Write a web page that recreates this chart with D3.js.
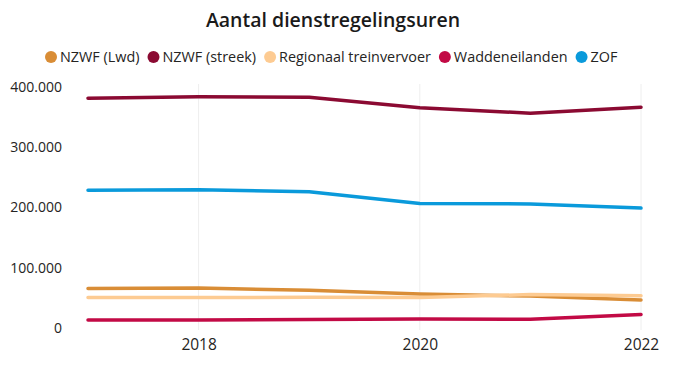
<!DOCTYPE html>
<html><head><meta charset="utf-8">
<script src="https://cdn.jsdelivr.net/npm/d3@7"></script>
<style>body{margin:0;background:#fff;font-family:"Open Sans",sans-serif}</style>
</head><body><svg id="c" width="687" height="375"></svg>
<script>
const years = [2017, 2018, 2019, 2020, 2021, 2022];
const seriesNames = ["NZWF (Lwd)", "NZWF (streek)", "Regionaal treinvervoer", "Waddeneilanden", "ZOF"];
const colors = ["#D98D36", "#8B0A32", "#FDCB92", "#C20A45", "#0A9ADB"];
const nzwfLwd = [65500, 66500, 62500, 56500, 53000, 46500];
const nzwfStreek = [381500, 384000, 383000, 365500, 356500, 366500];
const regionaal = [50500, 50500, 51000, 50500, 55500, 53500];
const wadden = [13300, 13300, 14000, 15000, 14500, 22500];
const zof = [228500, 229500, 226000, 206500, 206000, 199000];
const yTicks = [0, 100000, 200000, 300000, 400000];
const xTicks = [2018, 2020, 2022];
const allSeries = [nzwfLwd, nzwfStreek, regionaal, wadden, zof];

const svg = d3.select("#c");
const x = d3.scaleLinear().domain([2017, 2022]).range([88, 641]);
const y = d3.scaleLinear().domain([0, 400000]).range([328, 87]);
const fmt = v => d3.format(",")(v).replace(/,/g, ".");

svg.append("text").attr("x", 333).attr("y", 27).attr("text-anchor", "middle")
  .attr("font-size", 19.5).attr("font-weight", 600).attr("fill", "#1a1a1a")
  .text("Aantal dienstregelingsuren");

// legend
let lx = 51;
seriesNames.forEach((n, i) => {
  svg.append("circle").attr("cx", lx).attr("cy", 57).attr("r", 6).attr("fill", colors[i]);
  const t = svg.append("text").attr("x", lx + 9).attr("y", 62).attr("font-size", 14.4).attr("fill", "#252423").text(n);
  lx = lx + 9 + t.node().getComputedTextLength() + 14;
});

// grid
svg.append("g").selectAll("line").data(xTicks).join("line")
  .attr("x1", d => x(d)).attr("x2", d => x(d)).attr("y1", 84).attr("y2", 330)
  .attr("stroke", "#eeeeee").attr("stroke-width", 1);

const ya = svg.append("g").attr("transform", "translate(62,0)")
  .call(d3.axisLeft(y).tickValues(yTicks).tickFormat(fmt).tickSize(0).tickPadding(0));
ya.select(".domain").remove();
ya.selectAll("text").attr("font-size", 14).attr("font-family", "Open Sans").attr("fill", "#252423").attr("dy", "0.32em");

const xa = svg.append("g").attr("transform", "translate(0,336)")
  .call(d3.axisBottom(x).tickValues(xTicks).tickFormat(d3.format("d")).tickSize(0).tickPadding(3));
xa.select(".domain").remove();
xa.selectAll("text").attr("font-size", 15.5).attr("font-family", "Open Sans").attr("fill", "#252423");

const line = d3.line().x((d, i) => x(years[i])).y(d => y(d));
allSeries.forEach((s, i) => {
  svg.append("path").attr("d", line(s)).attr("fill", "none").attr("stroke", colors[i])
    .attr("stroke-width", 3.5).attr("stroke-linejoin", "round").attr("stroke-linecap", "round");
});
</script></body></html>
